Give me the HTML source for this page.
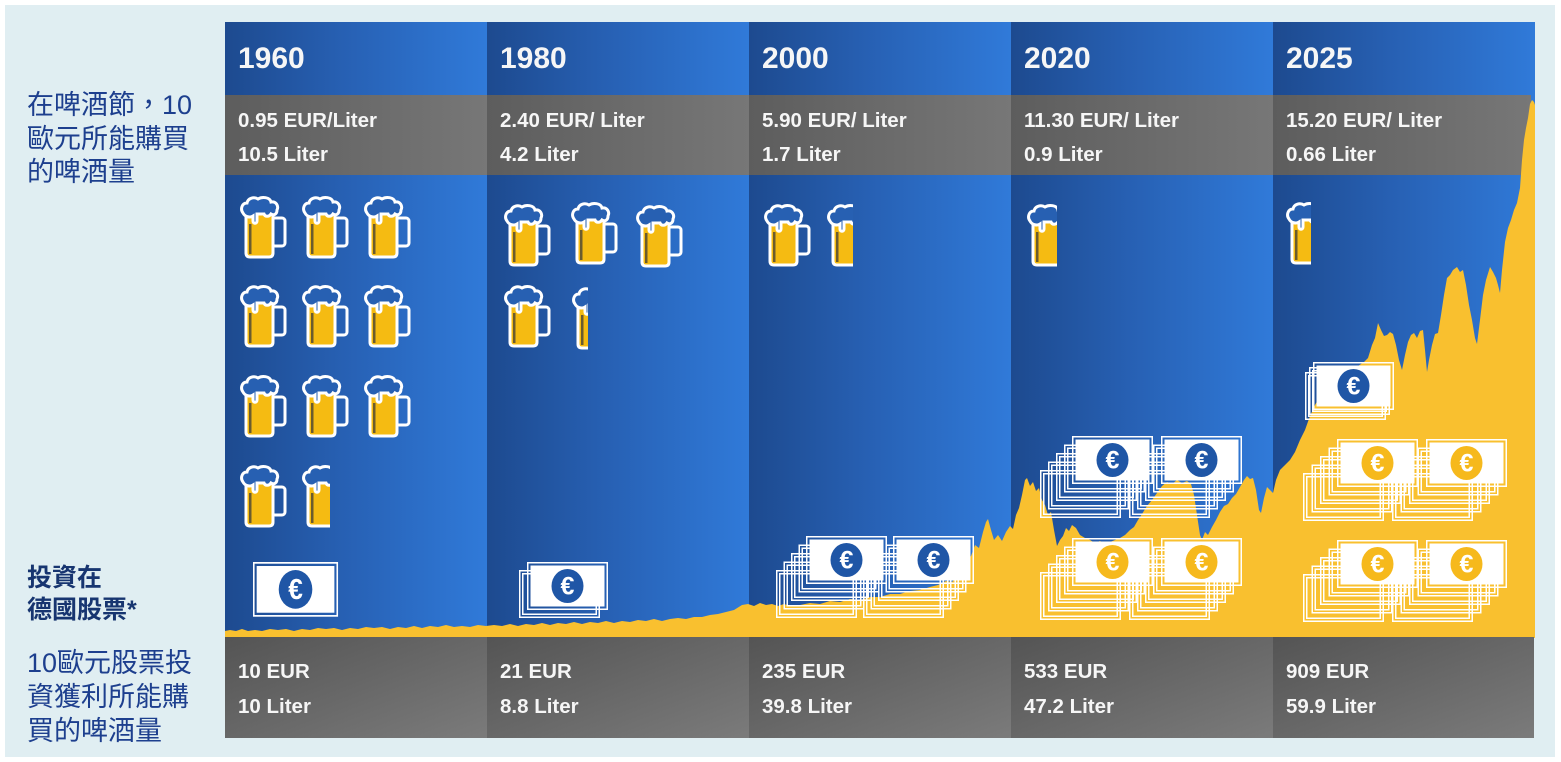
<!DOCTYPE html>
<html><head><meta charset="utf-8"><style>
html,body{margin:0;padding:0;background:#fff;}
svg{display:block;}
</style></head><body>
<svg width="1561" height="762" viewBox="0 0 1561 762" xmlns="http://www.w3.org/2000/svg">
<defs>
<linearGradient id="cg" x1="0" y1="0" x2="1" y2="0">
<stop offset="0" stop-color="#1d4a8f"/><stop offset="0.45" stop-color="#2760b3"/><stop offset="1" stop-color="#307ad9"/>
</linearGradient>
<linearGradient id="gg" x1="0" y1="0" x2="1" y2="0">
<stop offset="0" stop-color="#5d5d5d"/><stop offset="1" stop-color="#777777"/>
</linearGradient>
<linearGradient id="bg2" x1="0" y1="0" x2="1" y2="1">
<stop offset="0" stop-color="#545454"/><stop offset="1" stop-color="#7b7b7b"/>
</linearGradient>
<g id="mug">
<rect x="31" y="21" width="13" height="28" rx="3" fill="none" stroke="#fff" stroke-width="3"/>
<path d="M5,17 V56 Q5,60 9,60 H28 Q32,60 32,56 V17 Z" fill="#f5bb12" stroke="#fff" stroke-width="3"/>
<rect x="8" y="27" width="2.5" height="30" fill="#6b5b2e"/>
<path d="M2,16 C-1,12 1,6 6,6 C7,1 13,-0.5 17,2 C21,-0.5 29,0 30,5 C35,4 38,9 36,13 C36,17 33,19 30,17 C28,20 24,20 23,17 L16,17 L16,24 C16,27 12,27 12,24 L12,19 C9,21 4,20 2,16 Z" fill="#2760b2" stroke="#fff" stroke-width="3"/>
</g>
<g id="bk">
<rect x="0.75" y="0.75" width="79.5" height="46.5" fill="none" stroke="#fff" stroke-width="1.5"/>
<rect x="3.75" y="3.75" width="73.5" height="40.5" fill="none" stroke="#fff" stroke-width="1.5"/>
</g>
<g id="bb">
<rect x="0.75" y="0.75" width="79.5" height="46.5" fill="none" stroke="#fff" stroke-width="1.5"/>
<rect x="3.5" y="3.5" width="74" height="41" fill="#fff"/>
<ellipse cx="40.5" cy="24" rx="16" ry="17" fill="#1f56a6"/>
<text x="40.5" y="32.5" text-anchor="middle" font-family="Liberation Sans, sans-serif" font-weight="bold" font-size="25" fill="#fff">€</text>
</g>
<g id="by">
<rect x="0.75" y="0.75" width="79.5" height="46.5" fill="none" stroke="#fff" stroke-width="1.5"/>
<rect x="3.5" y="3.5" width="74" height="41" fill="#fff"/>
<ellipse cx="40.5" cy="24" rx="16" ry="17" fill="#f6b91c"/>
<text x="40.5" y="32.5" text-anchor="middle" font-family="Liberation Sans, sans-serif" font-weight="bold" font-size="25" fill="#fff">€</text>
</g>
<clipPath id="c1"><rect x="295" y="455" width="35" height="90"/></clipPath>
<clipPath id="c2"><rect x="565" y="280" width="23" height="80"/></clipPath>
<clipPath id="c3"><rect x="820" y="195" width="33" height="80"/></clipPath>
<clipPath id="c4"><rect x="1020" y="195" width="37" height="80"/></clipPath>
<clipPath id="c5"><rect x="1280" y="195" width="31" height="80"/></clipPath>
</defs>

<rect x="0" y="0" width="1561" height="762" fill="#ffffff"/>
<rect x="5" y="5" width="1550" height="752" fill="#e0eef2"/>

<rect x="225" y="22" width="262" height="616" fill="url(#cg)"/>
<rect x="487" y="22" width="262" height="616" fill="url(#cg)"/>
<rect x="749" y="22" width="262" height="616" fill="url(#cg)"/>
<rect x="1011" y="22" width="262" height="616" fill="url(#cg)"/>
<rect x="1273" y="22" width="262" height="616" fill="url(#cg)"/>

<rect x="225" y="95" width="262" height="80" fill="url(#gg)"/>
<rect x="487" y="95" width="262" height="80" fill="url(#gg)"/>
<rect x="749" y="95" width="262" height="80" fill="url(#gg)"/>
<rect x="1011" y="95" width="262" height="80" fill="url(#gg)"/>
<rect x="1273" y="95" width="258" height="80" fill="url(#gg)"/>

<path fill="#f9c02f" d="M225,638 L225,631 230,630 236,631 242,629 248,631 255,630 262,631 270,629 278,630 286,629 294,631 302,629 310,630 318,628 326,629 334,628 342,630 350,628 358,629 366,627 374,628 382,627 390,629 398,627 406,628 414,626 422,628 430,626 438,627 446,625 454,627 462,626 470,627 478,625 486,626 494,625 502,626 510,624 518,626 526,624 534,625 542,623 550,625 558,623 566,624 574,622 582,624 590,622 598,623 606,621 614,623 622,621 630,622 638,620 646,621 654,619 662,621 670,619 678,618 686,619 694,617 702,617 710,615 718,614 726,612 734,610 742,605 748,604 754,606 760,603 766,605 772,604 778,606 784,604 790,606 800,605 810,603 820,604 830,601 840,602 850,599 860,600 870,597 880,597 890,594 900,594 910,591 920,590 930,587 938,585 946,581 952,582 958,576 963,572 967,560 971,556 975,545 979,548 983,532 986,522 988,519 991,530 994,540 998,535 1002,541 1006,532 1010,526 1013,529 1016,515 1019,508 1022,495 1025,480 1027,478 1030,486 1033,482 1036,491 1039,488 1042,500 1045,505 1048,515 1051,512 1054,530 1057,546 1060,540 1063,536 1066,528 1069,531 1072,525 1076,528 1080,535 1085,538 1090,540 1095,543 1100,541 1105,544 1110,542 1115,540 1120,538 1125,535 1130,530 1134,527 1138,520 1142,514 1147,506 1152,500 1157,493 1162,486 1167,482 1172,484 1177,480 1182,483 1187,481 1191,484 1194,495 1197,515 1200,535 1202,540 1205,532 1208,535 1212,527 1216,520 1220,512 1224,506 1228,504 1232,498 1236,494 1240,487 1244,480 1247,476 1250,479 1253,478 1256,490 1259,510 1261,513 1264,498 1267,487 1270,490 1273,493 1276,480 1280,470 1284,466 1290,460 1295,452 1300,440 1305,430 1310,416 1315,405 1320,396 1328,388 1335,382 1342,378 1350,372 1358,366 1364,362 1368,358 1372,345 1375,338 1378,323 1381,330 1384,336 1387,335 1390,332 1393,334 1396,345 1399,360 1402,370 1405,355 1408,342 1411,335 1414,333 1417,338 1420,331 1423,330 1425,350 1427,372 1429,360 1432,345 1435,334 1438,333 1441,315 1444,295 1447,278 1450,275 1453,270 1457,267 1460,272 1463,270 1466,285 1469,305 1472,320 1475,338 1477,344 1480,320 1483,295 1486,280 1490,267 1493,272 1496,278 1498,285 1500,293 1502,270 1505,242 1508,228 1511,220 1514,210 1517,203 1520,188 1522,160 1524,140 1526,128 1528,118 1530,104 1532,100 1534,102 1535,105 L1535,638 Z"/>

<rect x="225" y="637" width="262" height="101" fill="url(#bg2)"/>
<rect x="487" y="637" width="262" height="101" fill="url(#bg2)"/>
<rect x="749" y="637" width="262" height="101" fill="url(#bg2)"/>
<rect x="1011" y="637" width="262" height="101" fill="url(#bg2)"/>
<rect x="1273" y="637" width="261" height="101" fill="url(#bg2)"/>

<g font-family="Liberation Sans, Arial, sans-serif" font-weight="bold" fill="#f6f6f6">
<g font-size="30">
<text x="238" y="68">1960</text>
<text x="500" y="68">1980</text>
<text x="762" y="68">2000</text>
<text x="1024" y="68">2020</text>
<text x="1286" y="68">2025</text>
</g>
<g font-size="20.5">
<text x="238" y="127">0.95 EUR/Liter</text>
<text x="238" y="161">10.5 Liter</text>
<text x="500" y="127">2.40 EUR/ Liter</text>
<text x="500" y="161">4.2 Liter</text>
<text x="762" y="127">5.90 EUR/ Liter</text>
<text x="762" y="161">1.7 Liter</text>
<text x="1024" y="127">11.30 EUR/ Liter</text>
<text x="1024" y="161">0.9 Liter</text>
<text x="1286" y="127">15.20 EUR/ Liter</text>
<text x="1286" y="161">0.66 Liter</text>

<text x="238" y="678">10 EUR</text>
<text x="238" y="713">10 Liter</text>
<text x="500" y="678">21 EUR</text>
<text x="500" y="713">8.8 Liter</text>
<text x="762" y="678">235 EUR</text>
<text x="762" y="713">39.8 Liter</text>
<text x="1024" y="678">533 EUR</text>
<text x="1024" y="713">47.2 Liter</text>
<text x="1286" y="678">909 EUR</text>
<text x="1286" y="713">59.9 Liter</text>
</g>
</g>

<g font-family="Liberation Sans, 'Noto Sans CJK TC', 'Noto Sans CJK SC', sans-serif">
<g font-size="27" fill="#1d3f8e">
<text x="27" y="114">在啤酒節，10</text>
<text x="27" y="148">歐元所能購買</text>
<text x="27" y="181">的啤酒量</text>
<text x="27" y="672">10歐元股票投</text>
<text x="27" y="706">資獲利所能購</text>
<text x="27" y="740">買的啤酒量</text>
</g>
<g font-size="25" font-weight="bold" fill="#173570">
<text x="27" y="586">投資在</text>
<text x="27" y="618">德國股票*</text>
</g>
</g>

<use href="#mug" x="241" y="197"/><use href="#mug" x="303" y="197"/><use href="#mug" x="365" y="197"/>
<use href="#mug" x="241" y="286"/><use href="#mug" x="303" y="286"/><use href="#mug" x="365" y="286"/>
<use href="#mug" x="241" y="376"/><use href="#mug" x="303" y="376"/><use href="#mug" x="365" y="376"/>
<use href="#mug" x="241" y="466"/>
<g clip-path="url(#c1)"><use href="#mug" x="303" y="466"/></g>
<use href="#mug" x="505" y="205"/><use href="#mug" x="572" y="203"/><use href="#mug" x="637" y="206"/>
<use href="#mug" x="505" y="286"/>
<g clip-path="url(#c2)"><use href="#mug" x="573" y="288"/></g>
<use href="#mug" x="765" y="205"/>
<g clip-path="url(#c3)"><use href="#mug" x="828" y="205"/></g>
<g clip-path="url(#c4)"><use href="#mug" x="1028" y="205"/></g>
<g clip-path="url(#c5)"><use href="#mug" x="1287" y="203"/></g>

<g transform="translate(253,562) scale(1.05,1.14)"><use href="#bb"/></g>
<use href="#bk" x="519" y="570"/><use href="#bb" x="527" y="562"/>
<use href="#bk" x="863" y="570"/><use href="#bk" x="870.5" y="561.5"/><use href="#bk" x="878" y="553"/><use href="#bk" x="885.5" y="544.5"/><use href="#bb" x="893" y="536"/>
<use href="#bk" x="776" y="570"/><use href="#bk" x="783.5" y="561.5"/><use href="#bk" x="791" y="553"/><use href="#bk" x="798.5" y="544.5"/><use href="#bb" x="806" y="536"/>
<use href="#bk" x="1129" y="470"/><use href="#bk" x="1137" y="461.5"/><use href="#bk" x="1145" y="453"/><use href="#bk" x="1153" y="444.5"/><use href="#bb" x="1161" y="436"/>
<use href="#bk" x="1040" y="470"/><use href="#bk" x="1048" y="461.5"/><use href="#bk" x="1056" y="453"/><use href="#bk" x="1064" y="444.5"/><use href="#bb" x="1072" y="436"/>
<use href="#bk" x="1129" y="572"/><use href="#bk" x="1137" y="563.5"/><use href="#bk" x="1145" y="555"/><use href="#bk" x="1153" y="546.5"/><use href="#by" x="1161" y="538"/>
<use href="#bk" x="1040" y="572"/><use href="#bk" x="1048" y="563.5"/><use href="#bk" x="1056" y="555"/><use href="#bk" x="1064" y="546.5"/><use href="#by" x="1072" y="538"/>
<use href="#bk" x="1305" y="372"/><use href="#bk" x="1309" y="367"/><use href="#bb" x="1313" y="362"/>
<use href="#bk" x="1392" y="473"/><use href="#bk" x="1400.5" y="464.5"/><use href="#bk" x="1409" y="456"/><use href="#bk" x="1417.5" y="447.5"/><use href="#by" x="1426" y="439"/>
<use href="#bk" x="1303" y="473"/><use href="#bk" x="1311.5" y="464.5"/><use href="#bk" x="1320" y="456"/><use href="#bk" x="1328.5" y="447.5"/><use href="#by" x="1337" y="439"/>
<use href="#bk" x="1392" y="574"/><use href="#bk" x="1400.5" y="565.5"/><use href="#bk" x="1409" y="557"/><use href="#bk" x="1417.5" y="548.5"/><use href="#by" x="1426" y="540"/>
<use href="#bk" x="1303" y="574"/><use href="#bk" x="1311.5" y="565.5"/><use href="#bk" x="1320" y="557"/><use href="#bk" x="1328.5" y="548.5"/><use href="#by" x="1337" y="540"/>
</svg>
</body></html>
